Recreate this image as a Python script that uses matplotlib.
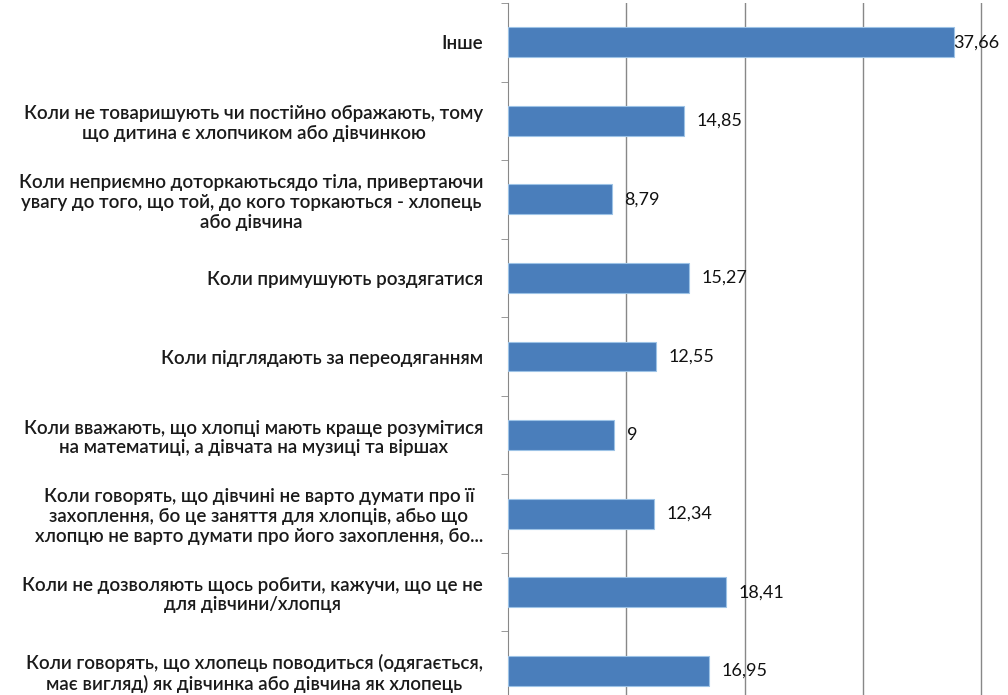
import numpy as np
import matplotlib.pyplot as plt

categories = [
    "Інше",
    "Коли не товаришують чи постійно ображають, тому\nщо дитина є хлопчиком або дівчинкою",
    "Коли неприємно доторкаютьсядо тіла, привертаючи\nувагу до того, що той, до кого торкаються - хлопець\nабо дівчина",
    "Коли примушують роздягатися",
    "Коли підглядають за переодяганням",
    "Коли вважають, що хлопці мають краще розумітися\nна математиці, а дівчата на музиці та віршах",
    "Коли говорять, що дівчині не варто думати про її\nзахоплення, бо це заняття для хлопців, абьо що\nхлопцю не варто думати про його захоплення, бо...",
    "Коли не дозволяють щось робити, кажучи, що це не\nдля дівчини/хлопця",
    "Коли говорять, що хлопець поводиться (одягається,\nмає вигляд) як дівчинка або дівчина як хлопець",
]
values = [37.66, 14.85, 8.79, 15.27, 12.55, 9, 12.34, 18.41, 16.95]

plt.rcParams['font.family'] = ['Lato', 'DejaVu Sans']

fig = plt.figure(figsize=(10.08, 6.95), dpi=100)
ax = fig.add_axes([508 / 1008, 1 - 710 / 695, 1, 707 / 695])

y = np.arange(len(categories))
ax.barh(y, values, height=0.38, color='#4A7EBB', edgecolor='#9DC3E6', linewidth=0.8, zorder=3)

ax.set_ylim(len(categories) - 0.5, -0.5)
ax.set_xlim(0, 85.2)

ax.set_yticks(y)
ax.set_yticklabels(categories, fontsize=13.5, color='#1a1a1a', fontweight='semibold')
for lbl in ax.get_yticklabels():
    lbl.set_multialignment('center')
    lbl.set_linespacing(1.2)
ax.tick_params(axis='y', length=0, pad=18)
ax.set_yticks(np.arange(-0.5, len(categories), 1), minor=True)
ax.tick_params(axis='y', which='minor', length=5, color='#888888', direction='out')

ax.set_xticks([10, 20, 30, 40, 50, 60, 70, 80])
ax.tick_params(axis='x', length=0, labelbottom=False)
ax.grid(axis='x', color='#888888', linewidth=1, zorder=0)

for s in ['top', 'right', 'bottom']:
    ax.spines[s].set_visible(False)
ax.spines['left'].set_color('#888888')

for yi, v in zip(y, values):
    # the longest bar leaves little room at the cropped right edge
    off = 9 if v < 30 else 0
    ax.annotate(f"{v:g}".replace('.', ','), (v, yi), xytext=(off, 0), textcoords='offset points',
                va='center', ha='left', fontsize=13, color='#111111', zorder=4)

fig.savefig('out.png', dpi=100)
